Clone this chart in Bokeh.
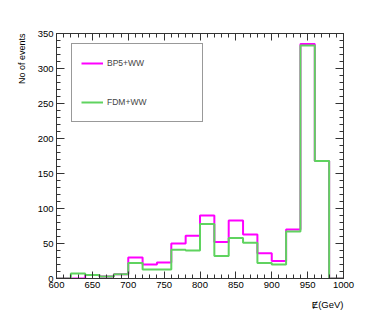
from bokeh.plotting import figure
from bokeh.models import (Range1d, LinearAxis, SingleIntervalTicker, Title, Legend, LegendItem,
                          CustomJSTickFormatter)
from bokeh.embed import file_html
from bokeh.resources import INLINE

# bin edges (low edges) and last upper edge
bin_low = [600, 620, 640, 660, 680, 700, 720, 740, 760, 780,
           800, 820, 840, 860, 880, 900, 920, 940, 960, 980]
x_max = 1000
bp5_ww = [0, 0, 5, 3, 6, 30, 20, 23, 50, 61, 90, 52, 83, 63, 36, 25, 70, 335, 168, 0]
fdm_ww = [0, 7, 5, 3, 6, 22, 13, 13, 41, 40, 78, 32, 58, 51, 22, 20, 67, 333, 168, 0]
x_ticks_interval = 50
y_ticks_interval = 50

FONT = "Liberation Sans"
AX = "#333333"

W, H = 374, 319
p = figure(width=W, height=H, output_backend="svg", toolbar_location=None,
           x_range=Range1d(600, 1000), y_range=Range1d(0, 350),
           min_border_left=56, min_border_right=W - 343, min_border_top=33, min_border_bottom=H - 278)
p.grid.visible = False
p.outline_line_color = AX
p.outline_line_width = 1

xs = bin_low + [x_max]
l1 = p.step(xs, bp5_ww + [bp5_ww[-1]], mode="after", line_color="#ff00ff", line_width=2)
l2 = p.step(xs, fdm_ww + [fdm_ww[-1]], mode="after", line_color="#5fd35f", line_width=2)

def style_axis(ax, major_in, minor_in, labels=True):
    ax.axis_line_color = AX
    ax.major_tick_line_color = AX
    ax.minor_tick_line_color = AX
    ax.major_tick_in = major_in
    ax.major_tick_out = 0
    ax.minor_tick_in = minor_in
    ax.minor_tick_out = 0
    ax.major_label_text_font = FONT
    ax.major_label_text_font_size = "9.5px"
    ax.major_label_text_color = "black"
    ax.major_label_standoff = 3
    if not labels:
        ax.formatter = CustomJSTickFormatter(code="return ''")

p.xaxis.ticker = SingleIntervalTicker(interval=x_ticks_interval, num_minor_ticks=5)
p.yaxis.ticker = SingleIntervalTicker(interval=y_ticks_interval, num_minor_ticks=5)
style_axis(p.xaxis[0], 7, 4)
style_axis(p.yaxis[0], 8, 4)

top = LinearAxis(ticker=SingleIntervalTicker(interval=x_ticks_interval, num_minor_ticks=5))
style_axis(top, 7, 4, labels=False)
p.add_layout(top, "above")
right = LinearAxis(ticker=SingleIntervalTicker(interval=y_ticks_interval, num_minor_ticks=5))
style_axis(right, 8, 4, labels=False)
p.add_layout(right, "right")

p.add_layout(Title(text="Ɇ(GeV)", align="right", text_font=FONT, text_font_size="9.5px",
                   text_font_style="normal", text_color="black", standoff=12), "below")
p.add_layout(Title(text="No of events", align="right", text_font=FONT, text_font_size="9px",
                   text_font_style="normal", text_color="black", standoff=15), "left")

legend = Legend(items=[LegendItem(label="BP5+WW", renderers=[l1]),
                       LegendItem(label="FDM+WW", renderers=[l2])],
                location=(15, 156), padding=9, spacing=19, label_height=20, glyph_height=20,
                glyph_width=22, label_standoff=4, label_width=86, margin=0,
                border_line_color=AX, border_line_width=1, background_fill_color="white",
                label_text_font=FONT, label_text_font_size="8.5px")
p.add_layout(legend)

open("out.html", "w").write(file_html(p, INLINE))
